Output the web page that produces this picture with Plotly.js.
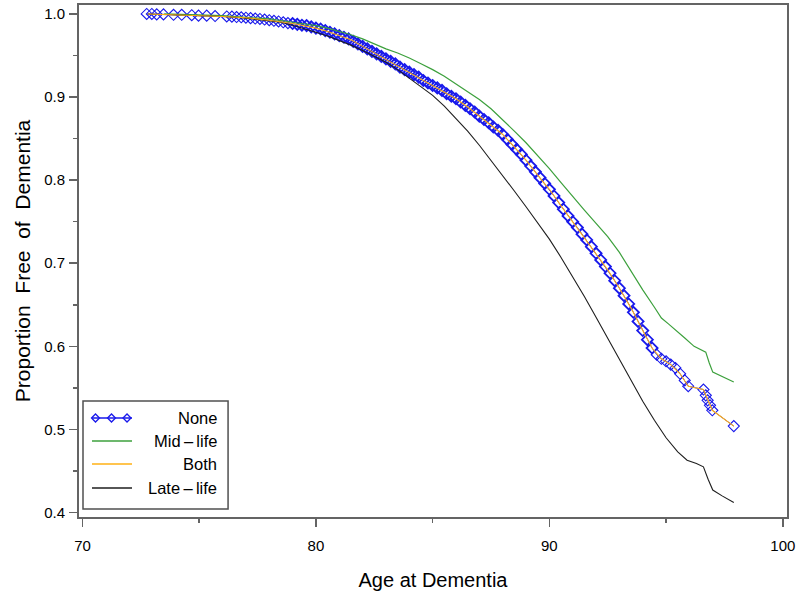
<!DOCTYPE html>
<html>
<head>
<meta charset="utf-8">
<script src="https://cdn.plot.ly/plotly-3.0.1.min.js"></script>
<style>html,body{margin:0;padding:0;background:#fff;}#chart{width:800px;height:603px;}</style>
</head>
<body>
<div id="chart"></div>
<script>
// ---- Data ----
const seriesNames = ["None", "Mid\u2009\u2013\u2009life", "Both", "Late\u2009\u2013\u2009life"];

const noneAge = [72.75,72.97,73.18,73.47,73.9,74.25,74.68,74.97,75.32,75.68,76.18,76.4,76.6,76.8,77.0,77.2,77.4,77.6,77.8,78.0,78.2,78.4,78.6,78.8,79.0,79.2,79.4,79.6,79.8,
80.0,80.2,80.4,80.6,80.8,81.0,81.2,81.4,81.6,81.8,82.0,82.2,82.4,82.6,82.8,83.0,83.2,83.4,83.6,83.8,84.0,84.2,84.4,84.6,84.8,85.0,85.2,85.4,85.6,85.8,86.0,86.2,86.4,86.6,86.8,87.0,87.2,87.4,87.6,87.8,
88.0,88.2,88.4,88.6,88.8,89.0,89.2,89.4,89.6,89.8,90.0,90.2,90.4,90.6,90.8,91.0,91.2,91.4,91.6,91.8,92.0,92.2,92.4,92.6,92.8,93.0,93.2,93.4,93.6,93.8,94.0,94.2,94.4,94.6,94.8,95.0,95.2,95.4,95.6,95.8,95.95,
96.6,96.7,96.78,96.88,96.98,97.9];
const noneSurv = [1.000,1.000,0.9995,0.9995,0.999,0.999,0.9985,0.998,0.998,0.9975,0.997,0.9968,0.9963,0.996,0.9955,0.995,0.9945,0.994,0.9933,0.9925,0.9918,0.991,0.990,0.989,0.9885,0.9875,0.9865,0.986,0.9845,
0.983,0.982,0.980,0.978,0.976,0.974,0.972,0.970,0.967,0.964,0.961,0.958,0.955,0.952,0.949,0.946,0.943,0.940,0.936,0.933,0.930,0.927,0.924,0.920,0.917,0.914,0.911,0.908,0.904,0.901,0.898,0.894,0.890,0.886,0.882,0.877,0.873,0.869,0.864,0.860,
0.855,0.849,0.843,0.837,0.831,0.824,0.817,0.810,0.803,0.796,0.789,0.781,0.773,0.765,0.757,0.750,0.743,0.735,0.728,0.720,0.712,0.704,0.696,0.688,0.679,0.670,0.661,0.651,0.641,0.630,0.619,0.608,0.598,0.590,0.585,0.582,0.578,0.574,0.567,0.559,0.552,
0.548,0.541,0.535,0.529,0.523,0.504];

const midAge = [73.5,75.0,76.0,77.0,78.0,79.0,79.5,80.0,80.5,81.0,81.5,82.0,82.5,83.0,83.5,84.0,84.5,85.0,85.5,86.0,86.5,87.0,87.5,88.0,88.5,89.0,89.5,90.0,90.5,91.0,91.5,92.0,92.5,93.0,93.5,94.0,94.5,94.8,95.1,95.4,95.8,96.2,96.7,96.85,97.0,97.9];
const midSurv = [1.000,0.999,0.998,0.996,0.994,0.990,0.988,0.986,0.983,0.979,0.975,0.970,0.964,0.958,0.953,0.947,0.940,0.933,0.925,0.916,0.906,0.897,0.886,0.873,0.859,0.845,0.830,0.814,0.797,0.780,0.764,0.748,0.732,0.713,0.690,0.668,0.647,0.634,0.627,0.620,0.610,0.600,0.593,0.580,0.569,0.557];

const bothAge = [72.8,74.0,75.0,76.0,77.0,78.0,79.0,80.0,80.5,81.0,81.5,82.0,82.5,83.0,83.5,84.0,84.5,85.0,85.5,86.0,86.5,87.0,87.5,88.0,88.5,89.0,89.5,90.0,90.5,91.0,91.5,92.0,92.5,93.0,93.5,94.0,94.4,94.8,95.2,95.6,95.95,96.6,96.7,96.78,96.88,96.98,97.9];
const bothSurv = [1.000,0.999,0.998,0.997,0.9955,0.9925,0.9885,0.983,0.979,0.974,0.969,0.961,0.953,0.946,0.938,0.930,0.922,0.914,0.906,0.898,0.888,0.877,0.866,0.855,0.840,0.824,0.806,0.789,0.769,0.750,0.731,0.712,0.692,0.670,0.646,0.619,0.598,0.585,0.578,0.567,0.552,0.548,0.541,0.535,0.529,0.523,0.504];

const lateAge = [72.8,74.0,75.0,76.0,77.0,78.0,78.5,79.0,79.5,80.0,80.5,81.0,81.5,82.0,82.5,83.0,83.5,84.0,84.5,85.0,85.5,86.0,86.5,87.0,87.5,88.0,88.5,89.0,89.5,90.0,90.5,91.0,91.5,92.0,92.5,93.0,93.5,94.0,94.5,95.0,95.5,95.9,96.3,96.6,96.8,97.0,97.4,97.9];
const lateSurv = [1.000,0.999,0.998,0.997,0.995,0.992,0.990,0.9865,0.9825,0.978,0.9735,0.968,0.9625,0.956,0.949,0.942,0.933,0.923,0.913,0.902,0.889,0.874,0.859,0.842,0.824,0.806,0.787,0.768,0.749,0.729,0.707,0.684,0.660,0.635,0.610,0.585,0.560,0.534,0.511,0.490,0.473,0.463,0.459,0.455,0.440,0.427,0.420,0.412];

const xTickVals = [70, 80, 90, 100];
const yTickVals = [0.4, 0.5, 0.6, 0.7, 0.8, 0.9, 1.0];
const yTickText = ["0.4", "0.5", "0.6", "0.7", "0.8", "0.9", "1.0"];

// ---- Styles ----
const BLUE = "rgb(25,25,235)";
const GREEN = "rgb(60,160,60)";
const ORANGE = "rgb(255,176,20)";
const BLACK = "rgb(30,30,30)";
const AXIS = "rgb(100,100,100)";
const FONT = "Liberation Sans, Arial, Helvetica, sans-serif";

// thinner diamond outlines where the events are sparse (start and tail)
const noneMarkerWidth = noneAge.map(a => (a < 79 || a > 94.5) ? 1.1 : 1.8);

const traces = [
  {x: noneAge, y: noneSurv, name: seriesNames[0], mode: "lines+markers", type: "scatter",
   line: {color: BLUE, width: 1}, marker: {symbol: "diamond-open", size: 8.5, color: BLUE, line: {width: noneMarkerWidth, color: BLUE}}},
  {x: midAge, y: midSurv, name: seriesNames[1], mode: "lines", type: "scatter", line: {color: GREEN, width: 1.2}},
  {x: lateAge, y: lateSurv, name: seriesNames[3], mode: "lines", type: "scatter", line: {color: BLACK, width: 1.1}},
  {x: bothAge, y: bothSurv, name: seriesNames[2], mode: "lines", type: "scatter", line: {color: ORANGE, width: 1.1}}
];

// ---- custom legend (paper coords) ----
const L = 79, R = 786.7, T = 5, B = 517;
const px = v => (v - L) / (R - L);
const py = v => (B - v) / (B - T);
const shapes = [
  {type: "rect", xref: "paper", yref: "paper", x0: px(83), x1: px(228), y0: py(509), y1: py(401), line: {color: "rgb(80,80,80)", width: 1.5}, fillcolor: "rgba(255,255,255,0)"}
];
const annotations = [];
const legendRows = [418, 441, 464, 488];
const legendColors = [BLUE, GREEN, ORANGE, BLACK];
legendRows.forEach((ry, i) => {
  shapes.push({type: "line", xref: "paper", yref: "paper", x0: px(92), x1: px(132), y0: py(ry), y1: py(ry), line: {color: legendColors[i], width: 1.3}});
  annotations.push({xref: "paper", yref: "paper", x: px(219), y: py(ry), xanchor: "right", yanchor: "middle", showarrow: false,
    text: seriesNames[i], font: {family: FONT, size: 16.5, color: "#000"}});
});
[95.5, 111.5, 127].forEach(cx => {
  shapes.push({type: "path", xref: "paper", yref: "paper", xsizemode: "pixel", ysizemode: "pixel",
    xanchor: px(cx), yanchor: py(418), path: "M -4 0 L 0 4 L 4 0 L 0 -4 Z", line: {color: BLUE, width: 1.3}, fillcolor: "rgba(0,0,0,0)"});
});

const layout = {
  width: 800, height: 603,
  margin: {l: L, r: 800 - R, t: T, b: 603 - B, pad: 0},
  paper_bgcolor: "#fff", plot_bgcolor: "#fff",
  showlegend: false,
  font: {family: FONT, color: "#000"},
  xaxis: {
    range: [69.85, 100.18], tickvals: xTickVals, ticks: "outside", ticklen: 8, tickwidth: 1.5, tickcolor: AXIS,
    minor: {dtick: 5, tick0: 70, ticks: "outside", ticklen: 4, tickwidth: 1.5, tickcolor: AXIS},
    showline: true, mirror: true, linecolor: AXIS, linewidth: 2, showgrid: false, zeroline: false,
    tickfont: {family: FONT, size: 15, color: "#000"}, ticklabelstandoff: 6,
    title: {text: "Age at Dementia", font: {family: FONT, size: 20, color: "#000"}, standoff: 20}
  },
  yaxis: {
    range: [0.3946, 1.0108], tickvals: yTickVals, ticktext: yTickText, ticks: "outside", ticklen: 8, tickwidth: 1.5, tickcolor: AXIS,
    minor: {dtick: 0.05, tick0: 0.4, ticks: "outside", ticklen: 4, tickwidth: 1.5, tickcolor: AXIS},
    showline: true, mirror: true, linecolor: AXIS, linewidth: 2, showgrid: false, zeroline: false,
    tickfont: {family: FONT, size: 15, color: "#000"}, ticklabelstandoff: 1,
    title: {text: "Proportion\u00A0 Free\u00A0 of\u00A0 Dementia", font: {family: FONT, size: 21, color: "#000"}, standoff: 8}
  },
  shapes: shapes,
  annotations: annotations
};

Plotly.newPlot("chart", traces, layout, {staticPlot: true, displayModeBar: false});
</script>
</body>
</html>
